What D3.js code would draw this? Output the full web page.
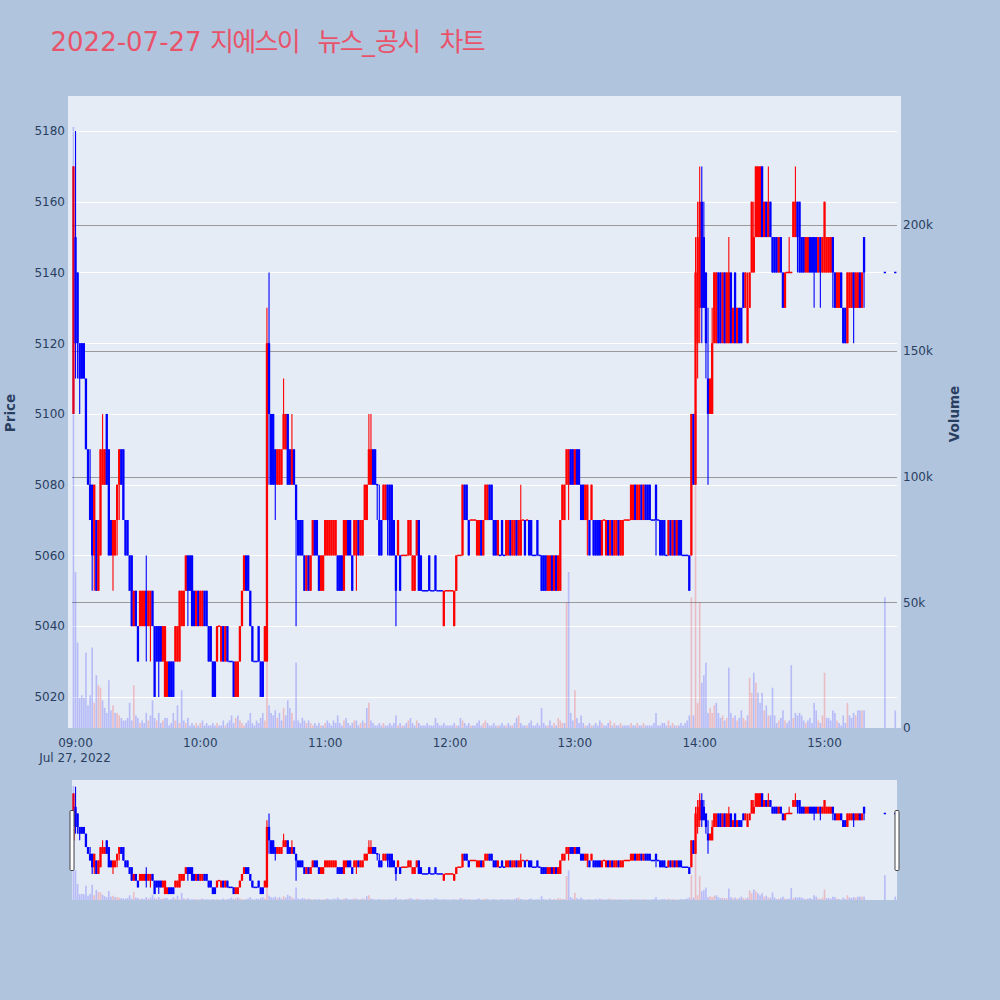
<!DOCTYPE html>
<html><head><meta charset="utf-8">
<script src="https://cdn.jsdelivr.net/npm/d3@7"></script>
<style>body{margin:0;background:#b0c4de;} svg{display:block;}</style>
</head><body>
<svg id="chart" width="1000" height="1000"></svg>
<script>
// ---------------- DATA ----------------
const chartTitle = "2022-07-27 지에스이 뉴스_공시 차트";
const sessionDate = "2022-07-27";
const sessionStart = "09:00";          // first 1-minute candle
const extraTimes = ["15:30", "15:35"]; // closing prints after the continuous session
const dateLabel = "Jul 27, 2022";

const open = [
5100,5150,5140,5120,5120,5120,5110,5090,5080,5080,
5060,5070,5050,5060,5080,5080,5100,5090,5070,5060,
5060,5070,5080,5090,5090,5070,5070,5060,5060,5040,
5050,5040,5040,5040,5040,5050,5040,5040,5050,5040,
5040,5040,5040,5030,5020,5020,5030,5030,5030,5030,
5030,5030,5040,5040,5050,5060,5060,5060,5050,5040,
5050,5040,5040,5050,5050,5040,5040,5030,5030,5030,
5040,5030,5040,5030,5040,5030,5030,5030,5020,5020,
5030,5040,5050,5060,5060,5050,5040,5030,5030,5040,
5030,5030,5030,5030,5120,5100,5100,5090,5080,5080,
5080,5090,5090,5100,5090,5080,5090,5080,5070,5070,
5070,5060,5050,5060,5050,5060,5070,5070,5060,5050,
5050,5060,5060,5060,5060,5060,5060,5060,5060,5060,
5050,5060,5070,5070,5060,5060,5060,5070,5060,5060,
5070,5070,5080,5080,5090,5090,5080,5070,5070,5070,
5070,5080,5080,5080,5070,5060,5060,5060,5060,5060,
5060,5060,5060,5050,5050,5060,5070,5060,5050,5050,
5050,5060,5050,5050,5060,5050,5050,5050,5040,5050,
5050,5050,5050,5040,5050,5060,5060,5060,5080,5080,
5070,5070,5070,5070,5060,5060,5070,5060,5070,5070,
5080,5080,5070,5070,5060,5060,5070,5060,5060,5060,
5070,5060,5060,5070,5060,5060,5070,5070,5070,5070,
5070,5060,5060,5070,5060,5060,5060,5060,5050,5050,
5060,5050,5060,5050,5050,5070,5070,5080,5080,5090,
5090,5080,5090,5090,5080,5080,5070,5070,5070,5070,
5070,5070,5070,5070,5060,5070,5060,5070,5060,5070,
5060,5060,5070,5060,5060,5070,5070,5070,5070,5070,
5080,5070,5070,5080,5070,5080,5080,5080,5070,5070,
5080,5070,5070,5070,5070,5060,5060,5070,5060,5070,
5060,5070,5070,5060,5060,5060,5060,5060,5100,5080,
5120,5130,5160,5150,5140,5110,5100,5100,5120,5120,
5140,5140,5120,5140,5120,5120,5140,5120,5140,5120,
5130,5130,5140,5130,5120,5130,5140,5140,5150,5150,
5150,5170,5150,5160,5150,5160,5150,5150,5150,5140,
5150,5140,5130,5140,5140,5140,5150,5150,5160,5160,
5150,5150,5140,5140,5150,5150,5150,5150,5140,5150,
5140,5140,5140,5140,5140,5150,5140,5130,5130,5140,
5130,5130,5120,5130,5130,5140,5130,5130,5140,5130,
5150,
5140,5140];

const high = [
5170,5180,5140,5120,5120,5120,5110,5090,5090,5080,
5080,5070,5070,5090,5100,5090,5100,5090,5070,5070,
5070,5080,5090,5090,5090,5070,5070,5060,5060,5050,
5050,5040,5050,5050,5050,5060,5050,5050,5050,5040,
5040,5040,5040,5040,5040,5030,5030,5030,5030,5040,
5040,5050,5050,5050,5060,5060,5060,5060,5050,5050,
5050,5050,5050,5050,5050,5040,5040,5030,5030,5040,
5040,5040,5040,5040,5040,5030,5030,5030,5030,5030,
5040,5050,5060,5060,5060,5050,5040,5030,5030,5040,
5030,5030,5040,5130,5140,5100,5100,5090,5090,5090,
5090,5110,5100,5100,5090,5100,5090,5080,5070,5070,
5070,5060,5060,5060,5060,5070,5070,5070,5060,5060,
5060,5070,5070,5070,5070,5070,5070,5060,5060,5060,
5070,5070,5070,5070,5060,5070,5070,5070,5070,5070,
5080,5080,5100,5100,5090,5090,5080,5080,5070,5080,
5080,5080,5080,5080,5070,5060,5070,5060,5060,5060,
5060,5070,5070,5060,5060,5070,5070,5060,5050,5050,
5050,5060,5050,5050,5060,5050,5050,5050,5050,5050,
5050,5050,5050,5050,5060,5060,5060,5080,5080,5080,
5070,5070,5070,5070,5070,5070,5070,5070,5080,5080,
5080,5080,5070,5070,5070,5060,5070,5060,5070,5070,
5070,5070,5070,5070,5070,5080,5070,5070,5070,5070,
5070,5060,5060,5070,5060,5060,5060,5060,5060,5060,
5060,5060,5060,5060,5070,5080,5080,5090,5090,5090,
5090,5090,5090,5090,5080,5080,5080,5080,5070,5080,
5070,5070,5070,5070,5070,5070,5070,5070,5070,5070,
5070,5070,5070,5070,5070,5070,5070,5070,5080,5080,
5080,5080,5080,5080,5080,5080,5080,5080,5070,5070,
5080,5070,5070,5070,5070,5060,5070,5070,5070,5070,
5070,5070,5070,5060,5060,5060,5060,5100,5100,5150,
5160,5170,5170,5160,5140,5130,5110,5130,5140,5140,
5140,5140,5140,5140,5140,5150,5140,5130,5140,5130,
5130,5130,5140,5140,5140,5140,5160,5160,5170,5170,
5170,5170,5160,5160,5170,5160,5150,5150,5150,5150,
5150,5140,5140,5140,5150,5140,5160,5170,5160,5160,
5150,5150,5150,5150,5150,5150,5150,5150,5150,5150,
5150,5160,5150,5150,5150,5150,5140,5140,5140,5140,
5130,5130,5140,5140,5140,5140,5140,5140,5140,5140,
5150,
5140,5140];

const low = [
5100,5110,5110,5100,5110,5110,5090,5080,5070,5050,
5050,5050,5050,5060,5080,5080,5080,5060,5060,5050,
5060,5060,5070,5080,5070,5060,5060,5050,5040,5040,
5040,5030,5040,5040,5040,5030,5040,5030,5040,5020,
5030,5020,5030,5030,5020,5020,5020,5020,5020,5030,
5030,5030,5040,5040,5050,5040,5050,5040,5040,5040,
5040,5040,5040,5040,5040,5030,5030,5020,5020,5030,
5040,5030,5030,5030,5030,5030,5030,5020,5020,5020,
5030,5040,5050,5050,5050,5040,5030,5030,5030,5030,
5020,5020,5030,5030,5080,5080,5080,5070,5080,5080,
5080,5090,5090,5080,5080,5080,5080,5040,5060,5060,
5060,5050,5050,5050,5050,5060,5060,5060,5050,5050,
5050,5060,5060,5060,5060,5060,5060,5050,5050,5050,
5050,5060,5060,5060,5050,5060,5050,5060,5060,5060,
5070,5070,5080,5080,5080,5080,5070,5060,5060,5070,
5070,5060,5060,5060,5060,5040,5060,5050,5060,5060,
5060,5060,5060,5050,5050,5060,5050,5050,5050,5050,
5050,5050,5050,5050,5050,5050,5050,5050,5040,5050,
5050,5050,5050,5040,5050,5060,5060,5060,5070,5070,
5060,5070,5070,5070,5060,5060,5060,5060,5070,5070,
5070,5070,5060,5060,5060,5060,5060,5060,5060,5060,
5060,5060,5060,5060,5060,5060,5070,5060,5070,5060,
5060,5060,5060,5060,5060,5050,5050,5050,5050,5050,
5050,5050,5050,5050,5050,5070,5070,5080,5070,5080,
5080,5080,5080,5080,5070,5070,5070,5060,5060,5070,
5060,5060,5060,5060,5060,5070,5060,5060,5060,5060,
5060,5060,5060,5060,5060,5070,5070,5070,5070,5070,
5070,5070,5070,5070,5070,5070,5070,5070,5070,5070,
5060,5070,5060,5060,5060,5060,5060,5060,5060,5060,
5060,5060,5060,5060,5060,5060,5050,5060,5080,5080,
5110,5120,5120,5130,5110,5080,5100,5100,5120,5120,
5120,5120,5120,5120,5120,5120,5120,5120,5120,5120,
5120,5120,5130,5130,5120,5130,5140,5140,5150,5150,
5150,5150,5150,5150,5150,5150,5140,5140,5140,5140,
5140,5130,5130,5140,5140,5140,5150,5150,5140,5140,
5140,5140,5140,5140,5140,5140,5130,5140,5140,5130,
5140,5140,5140,5140,5140,5130,5130,5130,5130,5130,
5120,5120,5120,5130,5130,5120,5130,5130,5130,5130,
5130,
5140,5140];

const close = [
5170,5120,5120,5110,5110,5110,5090,5080,5070,5060,
5080,5050,5070,5090,5090,5090,5080,5060,5060,5070,
5070,5080,5090,5080,5070,5060,5060,5050,5040,5050,
5040,5030,5050,5050,5050,5040,5050,5050,5040,5020,
5030,5030,5030,5040,5040,5030,5020,5020,5020,5040,
5040,5050,5050,5050,5060,5050,5050,5040,5040,5050,
5040,5050,5050,5040,5040,5030,5030,5020,5020,5040,
5040,5040,5030,5040,5030,5030,5030,5020,5030,5030,
5040,5050,5060,5050,5050,5040,5030,5030,5030,5030,
5020,5020,5040,5120,5100,5080,5080,5080,5090,5090,
5090,5100,5100,5080,5080,5090,5080,5070,5060,5060,
5060,5050,5060,5050,5060,5070,5060,5060,5050,5060,
5060,5070,5070,5070,5070,5070,5070,5050,5050,5050,
5070,5070,5060,5060,5050,5070,5070,5060,5070,5070,
5080,5080,5090,5090,5080,5080,5080,5060,5060,5080,
5080,5070,5060,5060,5060,5050,5070,5050,5060,5060,
5060,5070,5070,5060,5060,5070,5050,5050,5050,5050,
5050,5050,5050,5050,5050,5050,5050,5050,5050,5050,
5050,5050,5050,5050,5060,5060,5060,5080,5070,5070,
5060,5070,5070,5070,5070,5070,5060,5070,5080,5080,
5070,5070,5060,5060,5070,5060,5060,5060,5070,5070,
5060,5070,5070,5060,5070,5070,5070,5060,5070,5060,
5060,5060,5060,5060,5060,5050,5050,5050,5060,5060,
5050,5060,5050,5060,5070,5080,5080,5090,5090,5080,
5080,5090,5080,5080,5070,5070,5080,5080,5060,5080,
5060,5060,5060,5060,5070,5070,5070,5060,5070,5060,
5070,5070,5060,5070,5070,5070,5070,5070,5080,5080,
5070,5080,5080,5070,5080,5070,5070,5070,5070,5070,
5070,5070,5060,5060,5060,5060,5070,5060,5070,5060,
5070,5060,5060,5060,5060,5060,5050,5100,5080,5140,
5150,5160,5130,5130,5120,5100,5110,5120,5140,5140,
5120,5120,5140,5120,5140,5140,5120,5130,5120,5130,
5120,5120,5130,5140,5130,5140,5160,5150,5170,5170,
5170,5150,5160,5150,5160,5150,5140,5140,5140,5150,
5140,5130,5140,5140,5140,5140,5160,5160,5150,5140,
5140,5140,5150,5150,5140,5140,5140,5140,5150,5140,
5150,5160,5150,5150,5150,5140,5130,5140,5140,5130,
5120,5120,5140,5140,5140,5130,5140,5140,5130,5140,
5140,
5140,5140];

// volume in thousands of shares
const volumeK = [
239,62,34,12,13,12,30,9,13,32,
10,21,17,16,11,8,6,19,7,9,
6,6,5,4,3,3,4,10,3,17,
5,4,2,3,2,6,3,5,11,4,
3,6,2,3,4,4,1,2,6,3,
9,2,15,3,2,4,1,2,1,2,
1,2,3,1,2,1,1,2,1,2,
1,1,3,1,2,3,5,2,4,5,
3,2,1,2,3,6,2,1,3,2,
4,6,3,52,9,6,5,7,4,6,
3,8,5,11,8,6,3,26,3,2,
4,3,2,3,2,1,2,1,2,1,
1,2,3,2,1,3,2,5,2,1,
3,4,2,1,2,3,3,1,2,3,
2,8,10,3,2,1,1,2,1,2,
1,1,2,1,2,5,1,2,1,1,
2,3,4,2,1,3,2,1,1,1,
2,1,1,1,4,2,1,1,2,1,
1,1,1,2,1,1,4,3,2,1,
2,1,1,1,2,3,1,2,3,2,
1,1,2,1,1,1,2,1,1,2,
1,1,2,4,5,2,1,1,1,2,
3,1,1,2,1,8,2,1,1,3,
1,2,1,4,3,2,2,50,62,6,
3,15,4,2,5,2,1,1,2,1,
1,2,1,3,2,1,1,2,3,1,
2,1,1,2,1,1,1,1,2,1,
1,2,1,1,2,1,1,1,1,2,
6,1,1,2,2,1,3,1,2,1,
1,1,2,1,2,3,5,52,5,125,
10,50,18,21,26,6,8,6,9,10,
6,4,5,3,4,24,6,4,5,3,
4,7,4,3,5,20,14,22,18,14,
10,14,7,9,5,5,16,5,2,3,
4,7,3,2,3,25,4,6,5,6,
5,3,2,3,4,2,10,7,3,2,
5,22,4,4,3,7,6,3,2,1,
5,2,10,5,4,6,5,7,7,7,
7,
52,7];

const priceTicks = [5020,5040,5060,5080,5100,5120,5140,5160,5180];
const volumeTicks = [0,50,100,150,200];
const timeTicks = ["09:00","10:00","11:00","12:00","13:00","14:00","15:00"];

// ---------------- LAYOUT ----------------
const C = {
  page:"#b0c4de", plot:"#e5ecf6", up:"#ff0000", down:"#0000ff",
  grid:"#ffffff", grid2:"#9a9a9a", text:"#2a3f5f", title:"#e9536a"
};
const P = {x0:68, x1:901, y0:96, y1:728, gx0:72, gx1:897};
const S = {y0:780, y1:900};
const xRange = ["2022-07-27 08:58:33","2022-07-27 15:35:05"];
const priceRange = [5011.2, 5189.9];
const volRange = [0, 251.3];
// x start of Hangul runs in the title (null = continue inline); layout only
const titleHangulX = [210, 317.5, null, 439.5];

const parseT = d3.timeParse("%Y-%m-%d %H:%M:%S");
const parseM = d3.timeParse("%Y-%m-%d %H:%M");
const t0 = parseM(sessionDate + " " + sessionStart);
const nMain = open.length - extraTimes.length;
const times = open.map((_, i) => i < nMain ? d3.timeMinute.offset(t0, i)
                                            : parseM(sessionDate + " " + extraTimes[i - nMain]));

const data = times.map((t, i) => ({t, o:open[i], h:high[i], l:low[i], c:close[i], v:volumeK[i]}));
let prevUp = true;
data.forEach((d, i) => {
  const pc = i ? data[i-1].c : d.o;
  if (d.c > d.o) d.up = true;
  else if (d.c < d.o) d.up = false;
  else d.up = d.c > pc ? true : (d.c < pc ? false : prevUp);
  prevUp = d.up;
  d.vUp = i > 0 && d.c > data[i-1].c;
});

const svg = d3.select("#chart");
svg.append("rect").attr("width",1000).attr("height",1000).attr("fill",C.page);

const x = d3.scaleTime().domain(xRange.map(parseT)).range([P.gx0, P.gx1]);
const yP = d3.scaleLinear().domain(priceRange).range([P.y1, P.y0]);
const yV = d3.scaleLinear().domain(volRange).range([P.y1, P.y0]);
const ySP = d3.scaleLinear().domain(priceRange).range([S.y1, S.y0]);
const ySV = d3.scaleLinear().domain(volRange).range([S.y1, S.y0]);
const cx = d => x(new Date(d.t.getTime() - 45000));

// plot background
svg.append("rect").attr("x",P.x0).attr("y",P.y0).attr("width",P.x1-P.x0).attr("height",P.y1-P.y0).attr("fill",C.plot);

// grid
const g = svg.append("g");
g.selectAll("line.pg").data(priceTicks).join("line")
  .attr("x1",P.gx0).attr("x2",P.gx1).attr("y1",d=>Math.round(yP(d))+0.5).attr("y2",d=>Math.round(yP(d))+0.5)
  .attr("stroke",C.grid).attr("stroke-width",1);
g.selectAll("line.vg").data(volumeTicks.filter(v=>v>0)).join("line")
  .attr("x1",P.gx0).attr("x2",P.gx1).attr("y1",d=>Math.round(yV(d))+0.5).attr("y2",d=>Math.round(yV(d))+0.5)
  .attr("stroke",C.grid2).attr("stroke-width",1);

function drawCandles(sel, yScale, bodyW) {
  sel.selectAll("line.w").data(data).join("line")
    .attr("x1",cx).attr("x2",cx).attr("y1",d=>yScale(d.h)).attr("y2",d=>yScale(d.l))
    .attr("stroke",d=>d.up?C.up:C.down).attr("stroke-width",1.1);
  sel.selectAll("rect.b").data(data).join("rect")
    .attr("x",d=>cx(d)-bodyW/2).attr("width",bodyW)
    .attr("y",d=>{const a=yScale(Math.max(d.o,d.c)), b=yScale(Math.min(d.o,d.c)); return b-a<1.5 ? (a+b)/2-0.75 : a;})
    .attr("height",d=>{const a=yScale(Math.max(d.o,d.c)), b=yScale(Math.min(d.o,d.c)); return Math.max(1.5,b-a);})
    .attr("fill",d=>d.up?C.up:C.down);
}
function drawVolume(sel, yScale, base) {
  sel.selectAll("rect.v").data(data).join("rect")
    .attr("x",d=>cx(d)-0.83).attr("width",1.66)
    .attr("y",d=>yScale(d.v)).attr("height",d=>base-yScale(d.v))
    .attr("fill",d=>d.vUp?C.up:C.down).attr("fill-opacity",0.2);
}

drawCandles(svg.append("g"), yP, 2.3);
drawVolume(svg.append("g"), yV, P.y1);

// axes
const font = "'DejaVu Sans', Verdana, sans-serif";
const axL = svg.append("g").attr("transform",`translate(${P.x0},0)`)
  .call(d3.axisLeft(yP).tickValues(priceTicks).tickSize(0).tickPadding(3).tickFormat(d3.format("d")));
const axR = svg.append("g").attr("transform",`translate(${P.x1},0)`)
  .call(d3.axisRight(yV).tickValues(volumeTicks).tickSize(0).tickPadding(2).tickFormat(d=>d===0?"0":d+"k"));
const axB = svg.append("g").attr("transform",`translate(0,${P.y1})`)
  .call(d3.axisBottom(x).tickValues(timeTicks.map(s=>parseM(sessionDate+" "+s))).tickSize(0).tickPadding(10.5)
  .tickFormat(d3.timeFormat("%H:%M")));
[axL,axR,axB].forEach(a=>{
  a.select(".domain").remove();
  a.selectAll("text").attr("fill",C.text).style("font-family",font).style("font-size","12px");
});
svg.append("text").attr("x",x(parseM(sessionDate+" "+timeTicks[0]))).attr("y",762)
  .attr("text-anchor","middle").attr("fill",C.text).style("font-family",font).style("font-size","12px")
  .text(dateLabel);

// axis titles
svg.append("text").attr("transform","translate(15,413) rotate(-90)").attr("text-anchor","middle")
  .attr("fill",C.text).style("font-family",font).style("font-size","13.5px").style("font-weight","bold").text("Price");
svg.append("text").attr("transform","translate(959,414) rotate(-90)").attr("text-anchor","middle")
  .attr("fill",C.text).style("font-family",font).style("font-size","13.5px").style("font-weight","bold").text("Volume");

// title: split into Latin / Hangul runs
const tt = svg.append("text").attr("x",50.5).attr("y",51).attr("fill",C.title)
  .style("font-family","'DejaVu Sans','Noto Sans CJK KR',sans-serif").style("font-size","26px");
const runs = chartTitle.match(/[\uac00-\ud7a3]+|[^\uac00-\ud7a3]+/g);
let hi = 0;
runs.forEach(s=>{
  const ko = /[\uac00-\ud7a3]/.test(s);
  if (!ko && s.trim()==="") return;
  const ts = tt.append("tspan").text(ko ? s : s.replace(/\s+$/,""));
  if (ko) {
    const hx = titleHangulX[hi++];
    if (hx !== null) ts.attr("x", hx);
    ts.style("font-family","'Noto Sans CJK KR',sans-serif").style("letter-spacing","-1.7px");
  }
});

// range slider
svg.append("rect").attr("x",P.gx0).attr("y",S.y0).attr("width",P.gx1-P.gx0).attr("height",S.y1-S.y0).attr("fill",C.plot);
drawCandles(svg.append("g"), ySP, 2.3);
drawVolume(svg.append("g"), ySV, S.y1);
[P.gx0, P.gx1].forEach(hx=>{
  svg.append("rect").attr("x",hx-2).attr("y",S.y0+30.5).attr("width",4).attr("height",60)
    .attr("rx",1).attr("fill","#fff").attr("stroke","#444").attr("stroke-width",1);
});
</script>
</body></html>
